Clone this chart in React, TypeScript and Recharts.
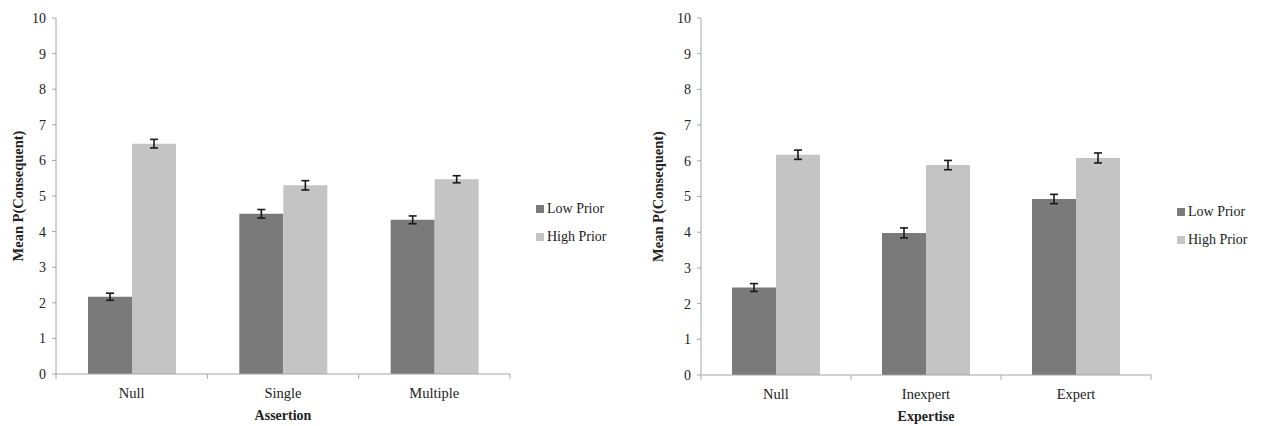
import React from 'react';
import { BarChart, Bar, XAxis, YAxis, ErrorBar, Legend } from 'recharts';

const assertionCategories = ['Null', 'Single', 'Multiple'];
const assertionLow = [2.17, 4.5, 4.33];
const assertionHigh = [6.47, 5.3, 5.47];
const assertionLowErr = [0.1, 0.12, 0.11];
const assertionHighErr = [0.12, 0.13, 0.1];

const expertiseCategories = ['Null', 'Inexpert', 'Expert'];
const expertiseLow = [2.45, 3.98, 4.93];
const expertiseHigh = [6.17, 5.88, 6.08];
const expertiseLowErr = [0.11, 0.14, 0.13];
const expertiseHighErr = [0.13, 0.13, 0.14];

const yTicks = [0, 1, 2, 3, 4, 5, 6, 7, 8, 9, 10];
const seriesNames = ['Low Prior', 'High Prior'];
const seriesColors = ['#7a7a7a', '#c4c4c4'];

const FONT = "'Liberation Serif', 'Times New Roman', serif";
const AXIS_COLOR = '#a6a6a6';
const TEXT_COLOR = '#222';

function buildData(cats: string[], low: number[], high: number[], lowErr: number[], highErr: number[]) {
  return cats.map((c, i) => ({ cat: c, low: low[i], high: high[i], lowErr: lowErr[i], highErr: highErr[i] }));
}

const makeTick = (nCats: number) => (props: any) => {
  const { x, y, payload, index } = props;
  const half = payload && typeof payload.offset === 'number' && payload.offset > 0 ? payload.offset : 75;
  const axisY = y - 12;
  return (
    <g>
      {index === 0 && <line x1={x - half} y1={axisY} x2={x - half} y2={axisY + 5} stroke={AXIS_COLOR} />}
      <line x1={x + half} y1={axisY} x2={x + half} y2={axisY + 5} stroke={AXIS_COLOR} />
      <text x={x} y={y} dy={12} textAnchor="middle" fill={TEXT_COLOR} fontFamily={FONT} fontSize={14.5}>
        {payload.value}
      </text>
    </g>
  );
};

const LegendContent = () => (
  <div style={{ fontFamily: FONT, fontSize: 14, color: TEXT_COLOR }}>
    {seriesNames.map((n, i) => (
      <div key={n} style={{ display: 'flex', alignItems: 'center', height: 28 }}>
        <span style={{ display: 'inline-block', width: 8, height: 8, background: seriesColors[i], marginRight: 3 }} />
        <span>{n}</span>
      </div>
    ))}
  </div>
);

const YLabel = (props: any) => {
  const vb = props.viewBox || {};
  const cx = 18;
  const cy = vb.y + vb.height / 2;
  return (
    <text
      x={cx}
      y={cy}
      transform={`rotate(-90, ${cx}, ${cy})`}
      textAnchor="middle"
      dominantBaseline="central"
      fontFamily={FONT}
      fontWeight="bold"
      fontSize={14.5}
      fill={TEXT_COLOR}
    >
      Mean P(Consequent)
    </text>
  );
};

type PanelProps = {
  data: any[];
  xLabel: string;
  width: number;
  left: number;
  margin: { top: number; right: number; bottom: number; left: number };
  yAxisWidth: number;
  legendPos: { left: number; top: number };
};

const Panel = ({ data, xLabel, width, left, margin, yAxisWidth, legendPos }: PanelProps) => (
  <div style={{ position: 'absolute', left, top: 0 }}>
    <BarChart width={width} height={426} data={data} margin={margin} barGap={0} barSize={44}>
      <XAxis
        dataKey="cat"
        stroke={AXIS_COLOR}
        tickLine={false}
        tick={makeTick(data.length)}
        height={30}
        tickMargin={6}
        interval={0}
        label={{
          value: xLabel,
          position: 'insideBottom',
          offset: -16,
          fontFamily: FONT,
          fontWeight: 'bold',
          fontSize: 14,
          fill: TEXT_COLOR,
        }}
      />
      <YAxis
        domain={[0, 10]}
        ticks={yTicks}
        interval={0}
        width={yAxisWidth}
        stroke={AXIS_COLOR}
        tickSize={4}
        tickMargin={6}
        tick={{ fontFamily: FONT, fontSize: 14, fill: TEXT_COLOR }}
        label={<YLabel />}
      />
      <Legend
        layout="vertical"
        align="center"
        verticalAlign="middle"
        content={<LegendContent />}
        wrapperStyle={{ left: legendPos.left, top: legendPos.top, width: 100, height: 56 }}
      />
      <Bar dataKey="low" name={seriesNames[0]} fill={seriesColors[0]} isAnimationActive={false}>
        <ErrorBar dataKey="lowErr" width={4} stroke="#1a1a1a" strokeWidth={1.6} direction="y" />
      </Bar>
      <Bar dataKey="high" name={seriesNames[1]} fill={seriesColors[1]} isAnimationActive={false}>
        <ErrorBar dataKey="highErr" width={4} stroke="#1a1a1a" strokeWidth={1.6} direction="y" />
      </Bar>
    </BarChart>
  </div>
);

export default function App() {
  const data1 = buildData(assertionCategories, assertionLow, assertionHigh, assertionLowErr, assertionHighErr);
  const data2 = buildData(expertiseCategories, expertiseLow, expertiseHigh, expertiseLowErr, expertiseHighErr);
  return (
    <div style={{ position: 'absolute', left: 0, top: 0, width: 1266, height: 426, background: '#fff', overflow: 'hidden' }}>
      <Panel
        data={data1}
        xLabel="Assertion"
        width={640}
        left={0}
        margin={{ top: 18, right: 130, bottom: 22, left: 8 }}
        yAxisWidth={48}
        legendPos={{ left: 536, top: 195 }}
      />
      <Panel
        data={data2}
        xLabel="Expertise"
        width={626}
        left={640}
        margin={{ top: 18, right: 115, bottom: 21, left: 8 }}
        yAxisWidth={53}
        legendPos={{ left: 537, top: 198 }}
      />
    </div>
  );
}
